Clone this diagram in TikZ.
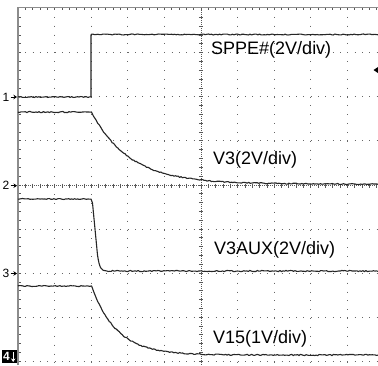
\documentclass[tikz,border=0pt]{standalone}
\usepackage{fontspec}
\setmainfont{Liberation Sans}
\usetikzlibrary{arrows.meta,positioning}
\tikzset{>={Stealth[width=4.5pt,length=3.5pt]}}
\tikzset{trace/.style={draw=black!85, line width=1.1pt, line join=round}}
\tikzset{griddots/.style={draw=black!60, line width=0.9pt}}
\tikzset{frame/.style={draw=black!45, line width=1.8pt}}
\tikzset{tick/.style={draw=black!65, line width=0.7pt}}
\tikzset{gndmark/.style={font=\fontsize{12}{12}\selectfont, inner sep=0pt}}
\tikzset{chlabel/.style={font=\fontsize{18}{20}\selectfont, inner sep=0pt, anchor=base west}}

\begin{document}
\begin{tikzpicture}[x=1pt, y=-1pt]
    \clip (0,0) rectangle (378,365);
    \fill[white] (0,0) rectangle (378,365);
    \pgfmathsetseed{42}

    % graticule
    \foreach \i in {1,2,3,4,6,7,8,9}
        \draw[griddots, dash pattern=on 1pt off 7.86pt] ({18+36.6*\i},8) -- ({18+36.6*\i},365);
    \foreach \j in {1,2,3,5,6,7,8}
        \draw[griddots, dash pattern=on 1pt off 6.32pt] (18,{8.5+44.1*\j}) -- (378,{8.5+44.1*\j});
    \draw[tick, dash pattern=on 1pt off 1pt] (18,185.7) -- (378,185.7);
    \draw[tick, dash pattern=on 1pt off 1pt] (201,8) -- (201,365);
    \foreach \k in {1,...,49}
        \draw[tick] ({18+7.32*\k},183.5) -- ({18+7.32*\k},188);
    \foreach \k in {1,...,40}
        \draw[tick] (198.8,{8.5+8.82*\k}) -- (203.2,{8.5+8.82*\k});
    \foreach \k in {1,...,49}
        \draw[tick] ({18+7.32*\k},7.5) -- ({18+7.32*\k},10);
    \foreach \k in {1,...,40}
        \draw[tick] (18,{8.5+8.82*\k}) -- (21,{8.5+8.82*\k});
    \draw[frame] (18,365) -- (18,7.5) -- (378,7.5);

    % traces
    \draw[trace] plot[domain=18:91, samples=50] (\x,{97+0.5*rand})
        -- (91,35) -- plot[domain=91.5:378, samples=180] (\x,{34.5+0.5*rand});
    \draw[trace] plot[domain=18:91.5, samples=50] (\x,{112+0.6*rand})
        -- plot[domain=92:378, samples=200] (\x,{184-72*exp(-(\x-91.5)/38)+0.6*rand});
    \draw[trace] plot[domain=18:91, samples=50] (\x,{199+0.5*rand})
        -- (92.5,203) -- (97.5,255) .. controls (99.5,268) and (101,271) .. (107,271)
        -- plot[domain=108:378, samples=180] (\x,{271+0.6*rand});
    \draw[trace] plot[domain=18:91.5, samples=50] (\x,{286+0.5*rand})
        -- plot[domain=92:378, samples=200] (\x,{355-69*exp(-(\x-91.5)/25)+0.6*rand});

    % channel labels
    \node[chlabel] (sppe) at (211,54) {SPPE\#(2V/div)};
    \node[chlabel] (vthree) at (213,164) {V3(2V/div)};
    \node[chlabel] (vaux) at (214,254) {V3AUX(2V/div)};
    \node[chlabel] (vfifteen) at (213,343) {V15(1V/div)};

    % ground markers
    \node[gndmark, anchor=east] (gone) at (9.5,97) {1};
    \node[gndmark, anchor=east] (gtwo) at (9.5,185.7) {2};
    \node[gndmark, anchor=east] (gthree) at (9.5,273.5) {3};
    \coordinate (eone) at (17,97);
    \coordinate (etwo) at (17,185.7);
    \coordinate (ethree) at (17,273.5);
    \draw[->, line width=0.9pt, shorten <=1pt] (gone) -- (eone);
    \draw[->, line width=0.9pt, shorten <=1pt] (gtwo) -- (etwo);
    \draw[->, line width=0.9pt, shorten <=1pt] (gthree) -- (ethree);
    \node[fill=black, minimum width=15pt, minimum height=12.5pt, inner sep=0pt] (gfour) at (9.5,356.5) {};
    \node[gndmark, text=white, font=\fontsize{12}{12}\bfseries, anchor=west] (gfourtxt) at ([xshift=1pt]gfour.west) {4};
    \coordinate (fourtop) at ([xshift=-4pt,yshift=-2pt]gfour.north east);
    \coordinate (fourbot) at ([xshift=-4pt,yshift=1pt]gfour.south east);
    \draw[->, white, line width=1pt] (fourtop) -- (fourbot);

    % trigger level
    \coordinate (trig) at (373.5,70);
    \fill (trig) -- (378,67) -- (378,73) -- cycle;
\end{tikzpicture}
\end{document}
